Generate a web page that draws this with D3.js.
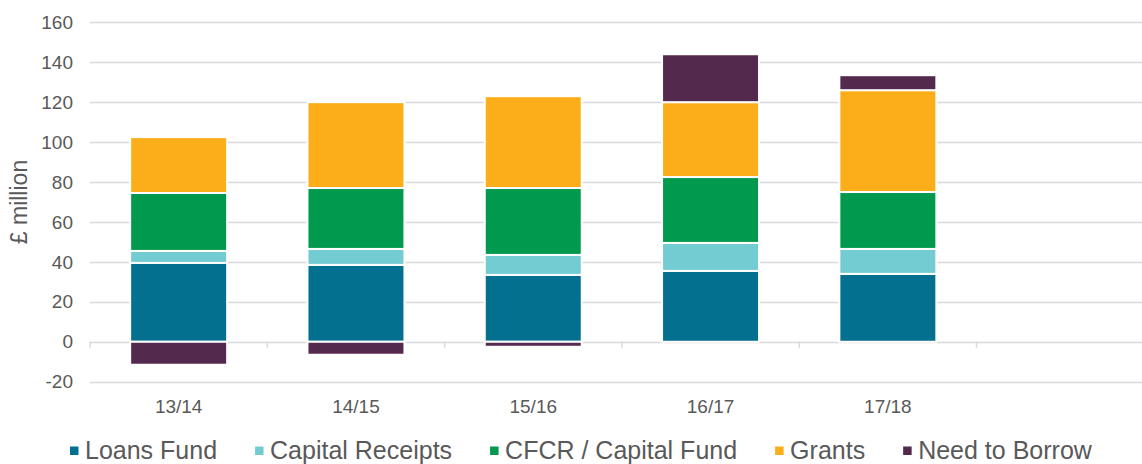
<!DOCTYPE html>
<html>
<head>
<meta charset="utf-8">
<script src="https://cdn.jsdelivr.net/npm/d3@7"></script>
<style>
  body { margin: 0; background: #fff; }
  text { font-family: "Liberation Sans", Arial, sans-serif; fill: #595959; }
</style>
</head>
<body>
<svg id="chart"></svg>
<script>
// Chart data (£ million)
const years = ["13/14", "14/15", "15/16", "16/17", "17/18"];
const seriesNames = ["Loans Fund", "Capital Receipts", "CFCR / Capital Fund", "Grants", "Need to Borrow"];
const loansFund = [39.5, 38.5, 33.5, 35.5, 34];
const capitalReceipts = [6, 8, 10, 14, 12.5];
const cfcr = [29, 30.5, 33.5, 33, 28.5];
const grants = [28, 43, 46, 37.5, 51];
const needToBorrow = [-11.5, -6.5, -2.5, 24, 7.5];
const colours = ["#04708f", "#74ccd3", "#00994d", "#fbae1a", "#54294e"];
const yTicks = [-20, 0, 20, 40, 60, 80, 100, 120, 140, 160];

const width = 1142, height = 464;
const svg = d3.select("#chart").attr("width", width).attr("height", height);

// one empty slot at the right, like the original
const slots = years.concat([""]);
const rows = years.map((y, i) => ({
  year: y,
  "Loans Fund": loansFund[i],
  "Capital Receipts": capitalReceipts[i],
  "CFCR / Capital Fund": cfcr[i],
  "Grants": grants[i],
  "Need to Borrow": needToBorrow[i]
}));

const x = d3.scaleBand()
  .domain(slots)
  .range([90, 90 + 6 * 177.3])
  .paddingInner(0.453)
  .paddingOuter(0.2265);

const y = d3.scaleLinear().domain([-20, 160]).range([381.7, 22.3]);

// gridlines
svg.append("g")
  .selectAll("line")
  .data(yTicks)
  .enter()
  .append("line")
  .attr("x1", 90).attr("x2", width)
  .attr("y1", d => Math.round(y(d)) + 0.5)
  .attr("y2", d => Math.round(y(d)) + 0.5)
  .attr("stroke", "#d9d9d9")
  .attr("stroke-width", 1.5);

// category ticks below zero line
const bounds = slots.map(s => x(s) - x.step() * x.paddingOuter()).concat([90 + 6 * x.step()]);
svg.append("g")
  .selectAll("line")
  .data(bounds)
  .enter()
  .append("line")
  .attr("x1", d => d).attr("x2", d => d)
  .attr("y1", y(0)).attr("y2", y(0) + 6)
  .attr("stroke", "#d9d9d9")
  .attr("stroke-width", 1.5);

// y tick labels
svg.append("g")
  .selectAll("text")
  .data(yTicks)
  .enter()
  .append("text")
  .attr("x", 73)
  .attr("y", d => y(d))
  .attr("dy", "0.35em")
  .attr("text-anchor", "end")
  .style("font-size", "19px")
  .text(d => d);

// y title
svg.append("text")
  .attr("transform", `translate(27, ${(y(-20) + y(160)) / 2}) rotate(-90)`)
  .attr("text-anchor", "middle")
  .style("font-size", "23px")
  .text("£ million");

// stacked bars
const stack = d3.stack().keys(seriesNames).offset(d3.stackOffsetDiverging);
const layers = stack(rows);

svg.append("g")
  .selectAll("g")
  .data(layers)
  .enter()
  .append("g")
  .attr("fill", (d, i) => colours[i])
  .selectAll("rect")
  .data(d => d)
  .enter()
  .append("rect")
  .attr("x", d => x(d.data.year))
  .attr("width", x.bandwidth())
  .attr("y", d => y(Math.max(d[0], d[1])))
  .attr("height", d => Math.abs(y(d[0]) - y(d[1])))
  .attr("stroke", "#fff")
  .attr("stroke-width", 2);

// x labels
svg.append("g")
  .selectAll("text")
  .data(years)
  .enter()
  .append("text")
  .attr("x", d => x(d) + x.bandwidth() / 2)
  .attr("y", 412.5)
  .attr("text-anchor", "middle")
  .style("font-size", "19px")
  .text(d => d);

// legend (kept just inside the bottom edge so descenders are not clipped)
const legend = svg.append("g");
let lx = 70;
seriesNames.forEach((name, i) => {
  legend.append("rect")
    .attr("x", lx).attr("y", 446.5)
    .attr("width", 8.5).attr("height", 8.5)
    .attr("fill", colours[i]);
  const t = legend.append("text")
    .attr("x", lx + 15)
    .attr("y", 458.5)
    .style("font-size", "25px")
    .text(name);
  lx += 15 + t.node().getComputedTextLength() + 38;
});
</script>
</body>
</html>
